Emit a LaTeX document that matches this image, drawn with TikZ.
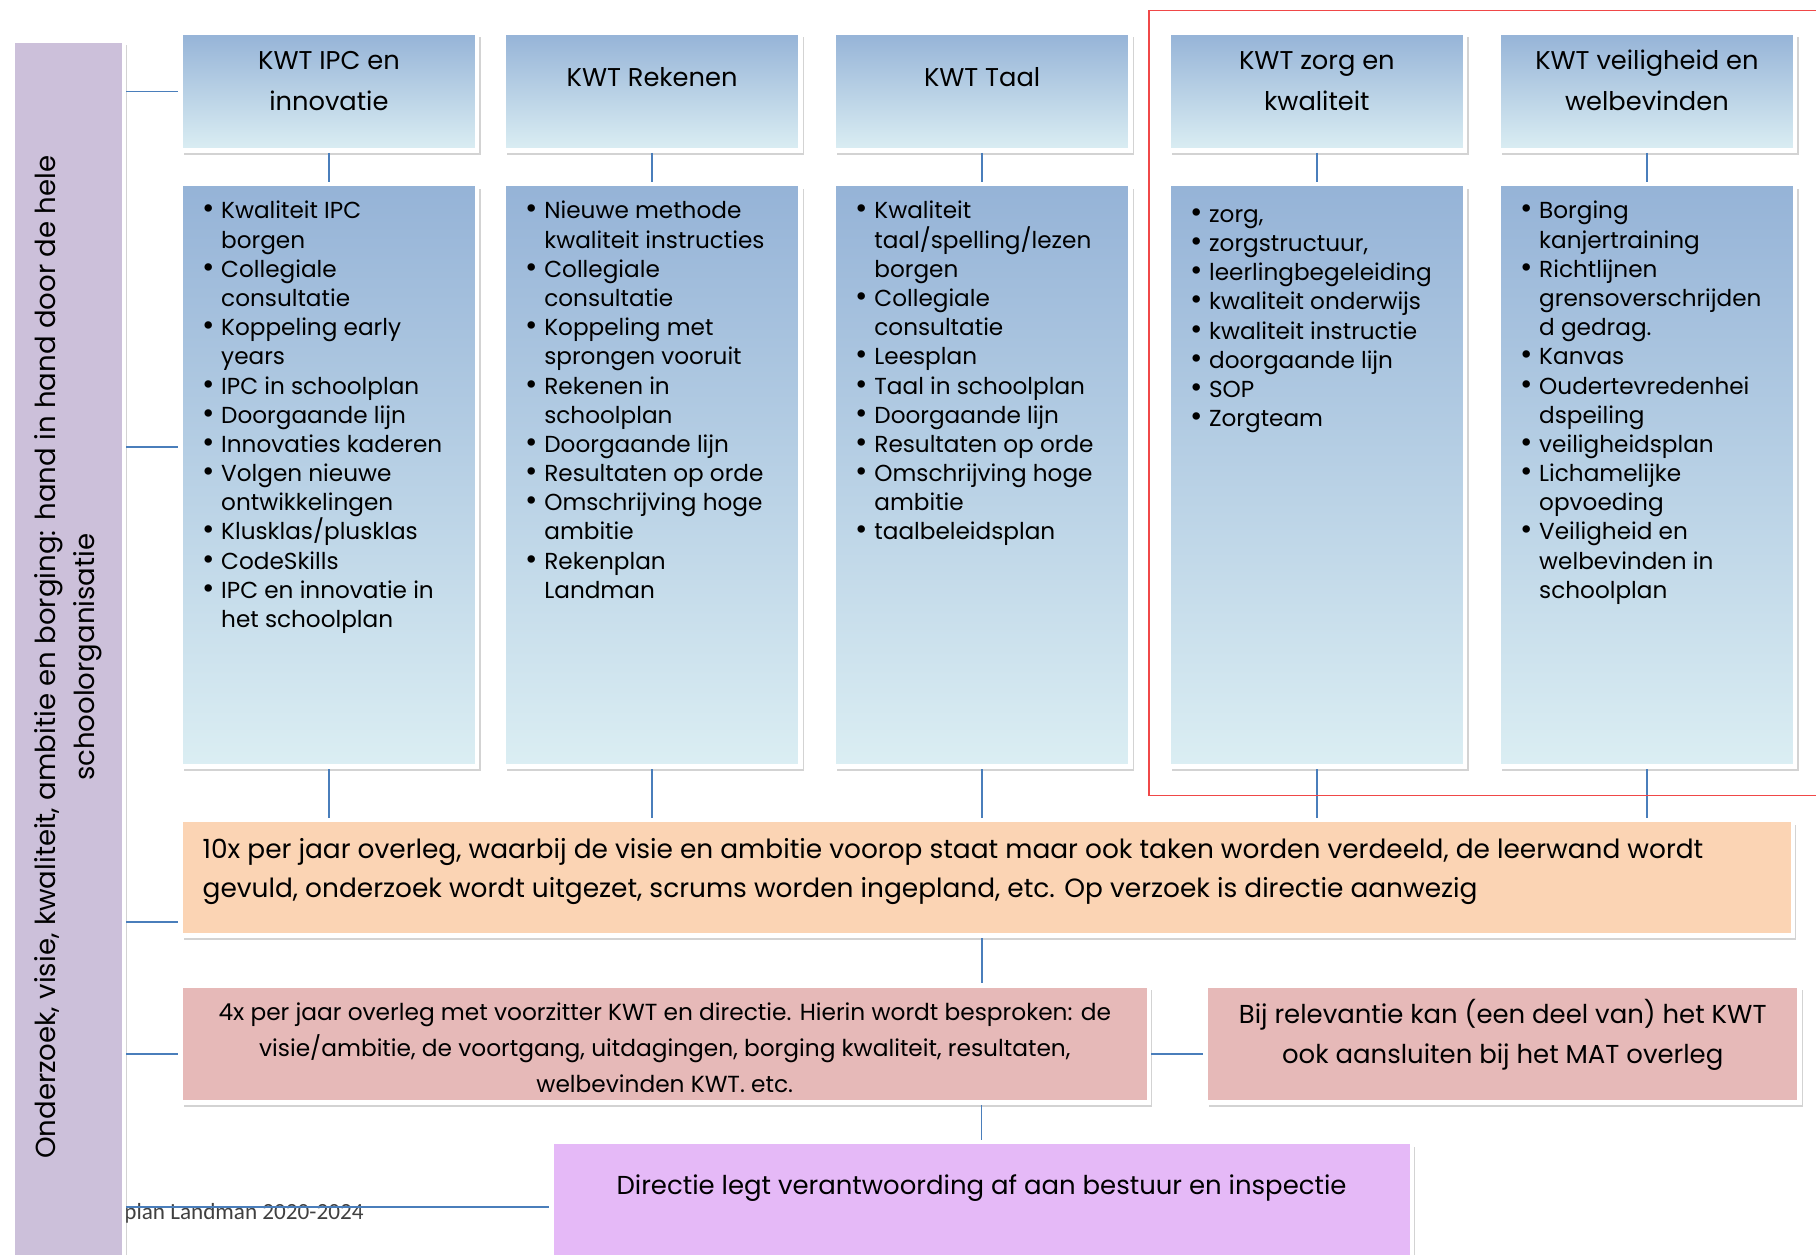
\documentclass[tikz,border=0pt]{standalone}
\usepackage{fontspec}
\setmainfont{Poppins}
\newfontfamily\voetfont{Carlito}
\usetikzlibrary{shadows}
\definecolor{kwtdonker}{HTML}{95B3D7}
\definecolor{kwtlicht}{HTML}{DBEEF3}
\definecolor{lijnblauw}{HTML}{4A7EBB}
\definecolor{oranje}{HTML}{FBD4B4}
\definecolor{roze}{HTML}{E6B9B8}
\definecolor{lila}{HTML}{E5B9F7}
\definecolor{paars}{HTML}{CCC0DA}
\definecolor{rood}{HTML}{F04848}
\newcommand\punt{\par\noindent\hangindent=8pt\hangafter=1\makebox[8pt][l]{\scalebox{1.3}{\textbullet}}}
\newcommand\blok[2]{\begin{minipage}[t]{#1}#2\end{minipage}}
\tikzset{
	kader/.style={draw=white, line width=2pt, inner sep=0pt,
		drop shadow={shadow xshift=1.5pt, shadow yshift=-2pt, opacity=.35}},
	kop/.style={kader, top color=kwtdonker, bottom color=kwtlicht,
		font=\fontsize{11.1}{17.5}\selectfont},
	lijst/.style={kader, top color=kwtdonker, bottom color=kwtlicht, inner xsep=9.5pt,
		font=\fontsize{10}{12.6}\selectfont, text height=15pt, text depth=236.5pt},
	verbinding/.style={draw=lijnblauw, line width=.75pt}
}
\begin{document}
\begin{tikzpicture}[x=0.5pt,y=-0.5pt]
	\useasboundingbox (0,0) rectangle (1568,1083);
	\path (0,386) coordinate (y1) (0,796) coordinate (y2)
	(0,910) coordinate (y3) (0,1042) coordinate (y4);
	\node (voet) [anchor=base west, inner sep=0pt, text=black!75,
		font=\voetfont\fontsize{10}{12}\selectfont] at (107,1053) {plan Landman 2020-2024};
	\node (balk) [kader, fill=paars, minimum width=48pt, minimum height=532.5pt,
		font=\fontsize{11.9}{17}\selectfont] at (59,567.5)
		{\rotatebox{90}{\blok{500pt}{\centering Onderzoek, visie, kwaliteit, ambitie en borging: hand in hand door de hele\\schoolorganisatie}}};
	\node (k1) [kop, text height=16pt, text depth=35pt] at (284,79) {\blok{128pt}{\centering KWT IPC en\\innovatie}};
	\node (k2) [kop, text height=23.5pt, text depth=27.5pt] at (563,79) {\blok{128pt}{\centering KWT Rekenen}};
	\node (k3) [kop, text height=23.5pt, text depth=27.5pt] at (848,79) {\blok{128pt}{\centering KWT Taal}};
	\node (k4) [kop, text height=16pt, text depth=35pt] at (1137,79) {\blok{128pt}{\centering KWT zorg en\\kwaliteit}};
	\node (k5) [kop, text height=16pt, text depth=35pt] at (1422,79) {\blok{128pt}{\centering KWT veiligheid en\\welbevinden}};
	\node (l1) [lijst] at (284,410.5) {\blok{109pt}{\raggedright
		\punt Kwaliteit IPC\newline borgen
		\punt Collegiale\newline consultatie
		\punt Koppeling early\newline years
		\punt IPC in schoolplan
		\punt Doorgaande lijn
		\punt Innovaties kaderen
		\punt Volgen nieuwe\newline ontwikkelingen
		\punt Klusklas/plusklas
		\punt CodeSkills
		\punt IPC en innovatie in\newline het schoolplan}};
	\node (l2) [lijst] at (563,410.5) {\blok{109pt}{\raggedright
		\punt Nieuwe methode\newline kwaliteit instructies
		\punt Collegiale\newline consultatie
		\punt Koppeling met\newline sprongen vooruit
		\punt Rekenen in\newline schoolplan
		\punt Doorgaande lijn
		\punt Resultaten op orde
		\punt Omschrijving hoge\newline ambitie
		\punt Rekenplan\newline Landman}};
	\node (l3) [lijst] at (848,410.5) {\blok{109pt}{\raggedright
		\punt Kwaliteit\newline taal/spelling/lezen\newline borgen
		\punt Collegiale\newline consultatie
		\punt Leesplan
		\punt Taal in schoolplan
		\punt Doorgaande lijn
		\punt Resultaten op orde
		\punt Omschrijving hoge\newline ambitie
		\punt taalbeleidsplan}};
	\node (l4) [lijst, text height=16.5pt, text depth=235pt] at (1137,410.5) {\blok{109pt}{\raggedright
		\punt zorg,
		\punt zorgstructuur,
		\punt leerlingbegeleiding
		\punt kwaliteit onderwijs
		\punt kwaliteit instructie
		\punt doorgaande lijn
		\punt SOP
		\punt Zorgteam}};
	\node (l5) [lijst] at (1422,410.5) {\blok{109pt}{\raggedright
		\punt Borging\newline kanjertraining
		\punt Richtlijnen\newline grensoverschrijden\newline d gedrag.
		\punt Kanvas
		\punt Oudertevredenhei\newline dspeiling
		\punt veiligheidsplan
		\punt Lichamelijke\newline opvoeding
		\punt Veiligheid en\newline welbevinden in\newline schoolplan}};
	\node (o) [kader, fill=oranje, inner xsep=9.5pt, text height=16.5pt, text depth=33.5pt,
		font=\fontsize{11.4}{16.75}\selectfont] at (852,758)
		{\blok{677pt}{\raggedright 10x per jaar overleg, waarbij de visie en ambitie voorop staat maar ook taken worden verdeeld, de leerwand wordt\\gevuld, onderzoek wordt uitgezet, scrums worden ingepland, etc. Op verzoek is directie aanwezig}};
	\node (p1) [kader, fill=roze, text height=15pt, text depth=35.5pt,
		font=\fontsize{10.05}{15.5}\selectfont] at (574,901.5)
		{\blok{418pt}{\centering 4x per jaar overleg met voorzitter KWT en directie. Hierin wordt besproken: de\\visie/ambitie, de voortgang, uitdagingen, borging kwaliteit, resultaten,\\welbevinden KWT. etc.}};
	\node (p2) [kader, fill=roze, text height=16.5pt, text depth=34pt,
		font=\fontsize{11.2}{17}\selectfont] at (1297.5,901.5)
		{\blok{256.5pt}{\centering Bij relevantie kan (een deel van) het KWT\\ook aansluiten bij het MAT overleg}};
	\node (d) [kader, fill=lila, anchor=north, text height=22.5pt, text depth=60pt,
		font=\fontsize{11.2}{16}\selectfont] at (847.5,984)
		{\blok{371.5pt}{\centering Directie legt verantwoording af aan bestuur en inspectie}};
	\draw[verbinding] (k1) -- (l1);
	\draw[verbinding] (k2) -- (l2);
	\draw[verbinding] (k3) -- (l3);
	\draw[verbinding] (k4) -- (l4);
	\draw[verbinding] (k5) -- (l5);
	\draw[verbinding] (l1) -- (l1 |- o.north);
	\draw[verbinding] (l2) -- (l2 |- o.north);
	\draw[verbinding] (l3) -- (l3 |- o.north);
	\draw[verbinding] (l4) -- (l4 |- o.north);
	\draw[verbinding] (l5) -- (l5 |- o.north);
	\draw[verbinding] (l3 |- o.south) -- (l3 |- p1.north);
	\draw[verbinding] (p1.south -| d.north) -- (d.north);
	\draw[verbinding] (p1.east |- y3) -- (p2.west |- y3);
	\draw[verbinding] (balk.east |- k1) -- (k1.west);
	\draw[verbinding] (balk.east |- y1) -- (l1.west |- y1);
	\draw[verbinding] (balk.east |- y2) -- (o.west |- y2);
	\draw[verbinding] (balk.east |- y3) -- (p1.west |- y3);
	\draw[verbinding] (balk.east |- y4) -- (d.west |- y4);
	\draw[rood, line width=.6pt] (992,9) rectangle (1620,687);
\end{tikzpicture}
\end{document}
